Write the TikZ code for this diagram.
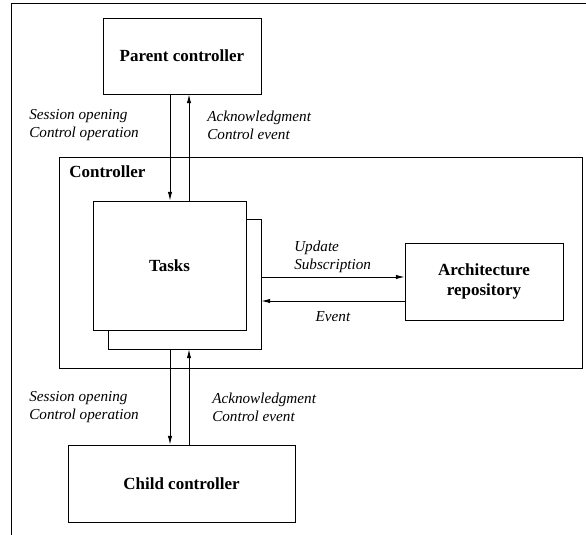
\documentclass[tikz,border=0pt]{standalone}
\usepackage{fontspec}
\setmainfont{Liberation Serif}
\usetikzlibrary{arrows.meta}
\tikzset{
  box/.style={draw,line width=0.6pt,fill=white,font=\fontsize{12.1}{14.5}\selectfont\bfseries,align=center},
  msg/.style={inner sep=0pt,align=left,font=\fontsize{10.8}{12.8}\selectfont\itshape},
  flow/.style={line width=0.6pt,-{Latex[length=2.2mm,width=1.1mm]}}
}
\begin{document}
\begin{tikzpicture}
\useasboundingbox (0,0) rectangle (14.65,-13.375);
\draw[line width=0.6pt] (14.65,-0.075) -- (0.275,-0.075) -- (0.275,-13.375);
% boxes
   \node[box,minimum width=3.95cm,minimum height=1.9cm] (parent) at (4.55,-1.4) {Parent controller};
   \node[box,minimum width=13.075cm,minimum height=5.275cm] (ctrl) at (8.0125,-6.5625) {};
   \node[anchor=west,inner sep=0pt,font=\fontsize{12.1}{14.5}\selectfont\bfseries] (ctrllabel) at (1.725,-4.3) {Controller};
   \node[box,minimum width=3.825cm,minimum height=3.25cm] (tasksback) at (4.6125,-7.1) {};
   \node[box,minimum width=3.825cm,minimum height=3.225cm] (tasks) at (4.2375,-6.6375) {Tasks};
   \node[box,minimum width=3.95cm,minimum height=1.925cm] (repo) at (12.1,-7.0375) {Architecture\\repository};
   \node[box,minimum width=5.675cm,minimum height=1.925cm] (child) at (4.5375,-12.0875) {Child controller};
% columns and rows of the arrows
   \coordinate (down) at (4.25,0);
   \coordinate (up) at (4.725,0);
   \coordinate (upd) at (0,-6.925);
   \coordinate (evt) at (0,-7.525);
\begin{scope}[flow]
   \draw (parent.south -| down) -- (tasks.north -| down);
   \draw (tasks.north -| up) -- (parent.south -| up);
   \draw (tasksback.south -| down) -- (child.north -| down);
   \draw (child.north -| up) -- (tasksback.south -| up);
   \draw (tasksback.east |- upd) -- (repo.west |- upd);
   \draw (repo.west |- evt) -- (tasksback.east |- evt);
\end{scope}
% labels
   \node[msg,anchor=west] (reqtop) at (0.725,-3.1375) {Session opening\\Control operation};
   \node[msg,anchor=west] (acktop) at (5.175,-3.1375) {Acknowledgment\\Control event};
   \node[msg,anchor=west] (reqbot) at (0.725,-10.175) {Session opening\\Control operation};
   \node[msg,anchor=west] (ackbot) at (5.3,-10.175) {Acknowledgment\\Control event};
   \node[msg,anchor=west] (updlabel) at (7.35,-6.4125) {Update\\Subscription};
   \node[msg] (evtlabel) at (8.325,-7.925) {Event};
\end{tikzpicture}
\end{document}
